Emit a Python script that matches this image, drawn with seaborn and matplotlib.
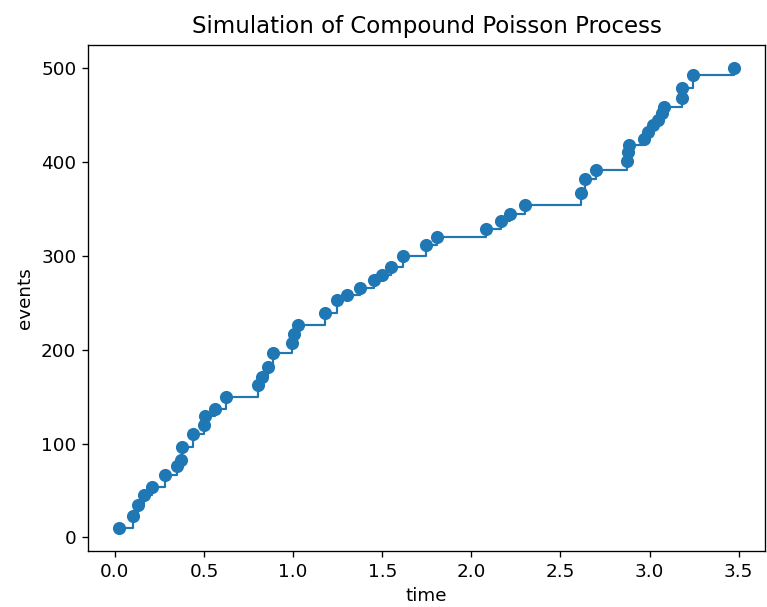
import matplotlib
matplotlib.use("Agg")
import matplotlib.pyplot as plt
import seaborn as sns
import pandas as pd

times = [0.022, 0.10, 0.128, 0.162, 0.207, 0.279, 0.346, 0.372, 0.376, 0.436,
         0.502, 0.505, 0.564, 0.626, 0.804, 0.827, 0.860, 0.888, 0.994, 1.006,
         1.028, 1.179, 1.246, 1.30, 1.374, 1.453, 1.497, 1.547, 1.614, 1.743,
         1.81, 2.084, 2.168, 2.218, 2.30, 2.614, 2.637, 2.70, 2.876, 2.878,
         2.882, 2.97, 2.99, 3.017, 3.045, 3.07, 3.08, 3.18, 3.182, 3.246,
         3.475]
events = [10, 23, 34, 45, 54, 66, 76, 82, 96, 110,
          120, 129, 137, 150, 162, 171, 181, 196, 207, 217,
          226, 239, 253, 258, 266, 274, 280, 288, 300, 311,
          320, 329, 337, 345, 354, 367, 382, 391, 401, 410,
          418, 424, 432, 439, 445, 452, 458, 468, 479, 493,
          500]

df = pd.DataFrame({"time": times, "events": events})

fig = plt.figure(figsize=(767 / 120, 607 / 120), dpi=120)
ax = fig.add_axes([88 / 767, 1 - 551 / 607, 677 / 767, 506 / 607])

sns.lineplot(data=df, x="time", y="events", drawstyle="steps-post",
             estimator=None, sort=False, color="#1f77b4", linewidth=1.3, ax=ax)
sns.scatterplot(data=df, x="time", y="events", color="#1f77b4", s=62,
                linewidth=0, ax=ax)

ax.set_title("Simulation of Compound Poisson Process", fontsize=13.7, pad=7)
ax.set_xlabel("time", fontsize=11)
ax.set_ylabel("events", fontsize=11)
ax.tick_params(labelsize=11)

fig.savefig("out.png", dpi=120)
